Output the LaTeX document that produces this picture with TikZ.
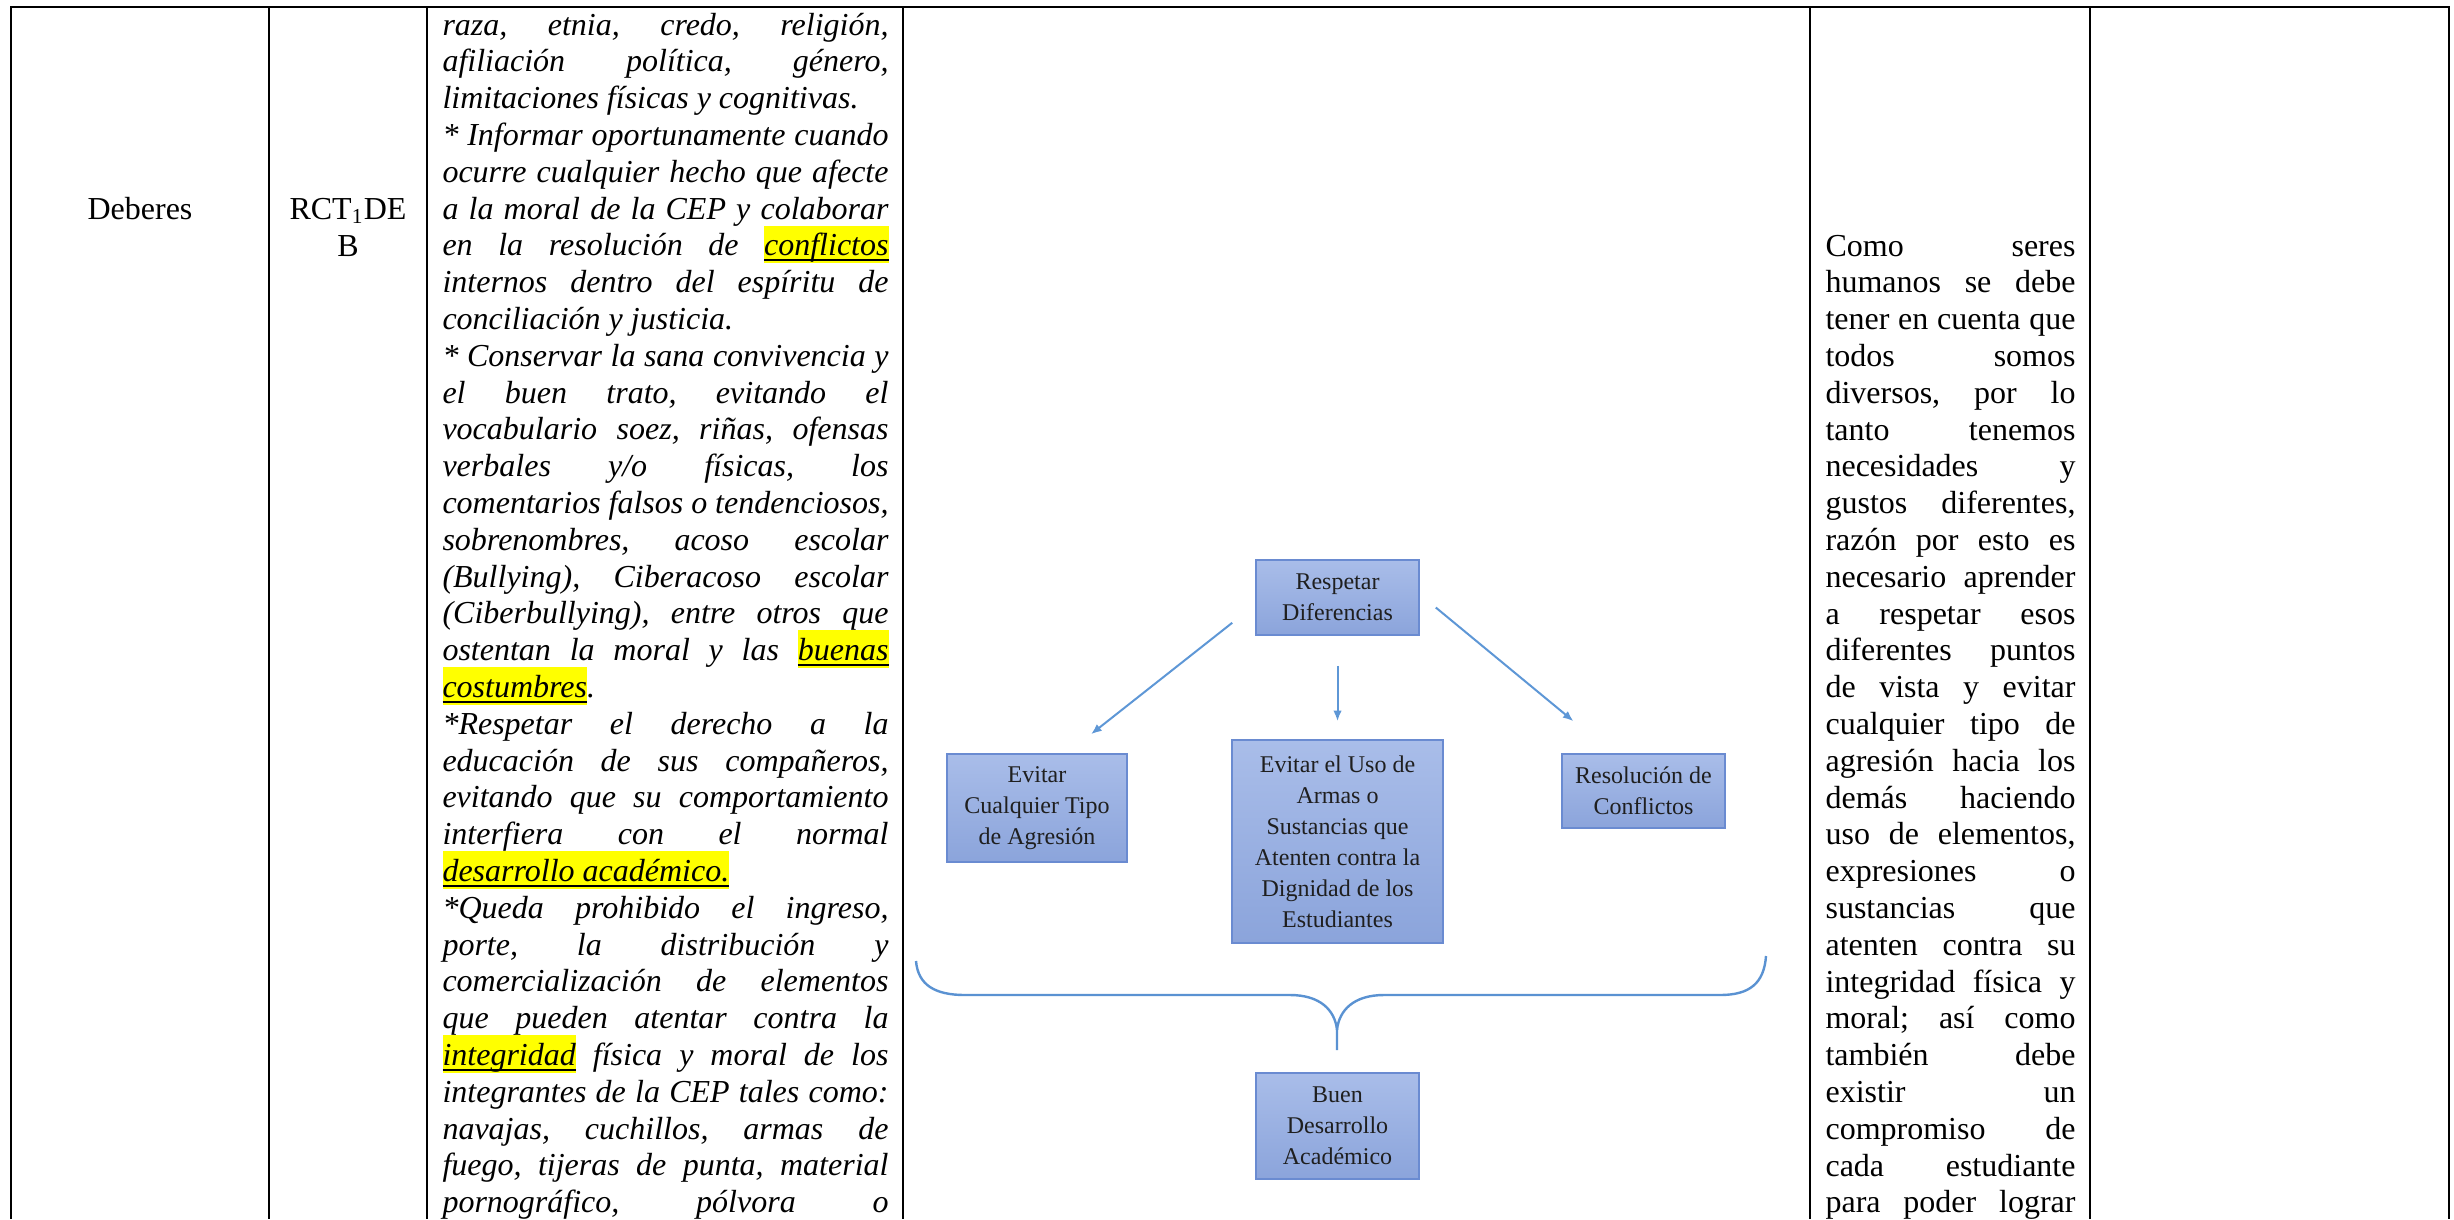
\documentclass[tikz,border=0pt]{standalone}
\usepackage{fontspec}
\setmainfont{Liberation Serif}
\usetikzlibrary{arrows.meta,calc}
\definecolor{boxtop}{HTML}{A9BDE9}
\definecolor{boxbot}{HTML}{8BA4DB}
\definecolor{boxline}{HTML}{6A8BD1}
\definecolor{arrowc}{HTML}{5E97D6}
\definecolor{bracec}{HTML}{5A92D2}
\definecolor{hly}{RGB}{255,255,0}
\newlength\linew
\newsavebox\hlbox
\newcommand\Jl[1]{\makebox[\linew][s]{#1}\par}
\newcommand\Ll[1]{\makebox[\linew][l]{#1}\par}
\newcommand\hlw[1]{\sbox\hlbox{#1}\rlap{\textcolor{hly}{\rule[-2.7pt]{\wd\hlbox}{14pt}}}\rlap{\rule[-2pt]{\wd\hlbox}{0.8pt}}\usebox\hlbox}
\tikzset{
  sbox/.style={draw=boxline, line width=0.6pt, top color=boxtop, bottom color=boxbot,
    align=center, inner sep=1pt, font=\fontsize{9}{11.6}\selectfont, text=black!88},
  arr/.style={draw=arrowc, line width=0.75pt, -{Latex[length=4pt,width=3.2pt]}},
  rule/.style={draw=black, line width=0.75pt},
  celltext/.style={anchor=base west, inner sep=0pt},
  plain/.style={anchor=base, inner sep=0pt, font=\fontsize{12}{13.8}\selectfont}
}
\begin{document}
\begin{tikzpicture}[x=0.375pt,y=-0.375pt]
\useasboundingbox (0,0) rectangle (2454,1219);
% table grid
\coordinate (tl) at (11,7);
\coordinate (tr) at (2449,7);
\draw[black, line width=1pt] (tl) -- (tr);
\foreach \xx in {11,269,427,903,1810,2090,2449}{
  \draw[rule] (\xx,6) -- (\xx,1219);
}
% column 1 and 2
\node[plain] (deb) at (140,219) {Deberes};
\node[plain] (rct) at (348,219) {RCT\textsubscript{1}DE};
\node[plain] (rctb) at (348,256) {B};
% column 3
\node[celltext] (c3) at (442,35) {\vtop{\fontsize{12}{13.8}\selectfont\itshape
\hsize=167.25pt\linew=\hsize\parindent=0pt\parskip=0pt\lineskiplimit=-30pt\frenchspacing
\Jl{raza, etnia, credo, religión,}
\Jl{afiliación política, género,}
\Ll{limitaciones físicas y cognitivas.}
\Jl{* Informar oportunamente cuando}
\Jl{ocurre cualquier hecho que afecte}
\Jl{a la moral de la CEP y colaborar}
\Jl{en la resolución de \hlw{conflictos}}
\Jl{internos dentro del espíritu de}
\Ll{conciliación y justicia.}
\Jl{* Conservar la sana convivencia y}
\Jl{el buen trato, evitando el}
\Jl{vocabulario soez, riñas, ofensas}
\Jl{verbales y/o físicas, los}
\Jl{comentarios falsos o tendenciosos,}
\Jl{sobrenombres, acoso escolar}
\Jl{(Bullying), Ciberacoso escolar}
\Jl{(Ciberbullying), entre otros que}
\Jl{ostentan la moral y las \hlw{buenas}}
\Ll{\hlw{costumbres}.}
\Jl{*Respetar el derecho a la}
\Jl{educación de sus compañeros,}
\Jl{evitando que su comportamiento}
\Jl{interfiera con el normal}
\Ll{\hlw{desarrollo académico.}}
\Jl{*Queda prohibido el ingreso,}
\Jl{porte, la distribución y}
\Jl{comercialización de elementos}
\Jl{que pueden atentar contra la}
\Jl{\hlw{integridad} física y moral de los}
\Jl{integrantes de la CEP tales como:}
\Jl{navajas, cuchillos, armas de}
\Jl{fuego, tijeras de punta, material}
\Jl{pornográfico, pólvora o}
}};
% column 6
\node[celltext] (c6) at (1825,256) {\vtop{\fontsize{12}{13.8}\selectfont
\hsize=93.75pt\linew=\hsize\parindent=0pt\parskip=0pt\lineskiplimit=-30pt\frenchspacing
\Jl{Como seres}
\Jl{humanos se debe}
\Jl{tener en cuenta que}
\Jl{todos somos}
\Jl{diversos, por lo}
\Jl{tanto tenemos}
\Jl{necesidades y}
\Jl{gustos diferentes,}
\Jl{razón por esto es}
\Jl{necesario aprender}
\Jl{a respetar esos}
\Jl{diferentes puntos}
\Jl{de vista y evitar}
\Jl{cualquier tipo de}
\Jl{agresión hacia los}
\Jl{demás haciendo}
\Jl{uso de elementos,}
\Jl{expresiones o}
\Jl{sustancias que}
\Jl{atenten contra su}
\Jl{integridad física y}
\Jl{moral; así como}
\Jl{también debe}
\Jl{existir un}
\Jl{compromiso de}
\Jl{cada estudiante}
\Jl{para poder lograr}
}};
% diagram
\node[sbox, minimum width=61.1pt, minimum height=28.1pt] (resp) at (1337.5,597.5) {Respetar\\Diferencias};
\node[sbox, minimum width=67.5pt, minimum height=40.5pt] (evc) at (1037,808) {Evitar\\Cualquier Tipo\\de Agresión};
\node[sbox, minimum width=79.1pt, minimum height=76.1pt] (evu) at (1337.5,841.5) {Evitar el Uso de\\Armas o\\Sustancias que\\Atenten contra la\\Dignidad de los\\Estudiantes};
\node[sbox, minimum width=61.1pt, minimum height=27.75pt] (res) at (1643.5,791) {Resolución de\\Conflictos};
\node[sbox, minimum width=61.1pt, minimum height=39.75pt] (buen) at (1337.5,1126) {Buen\\Desarrollo\\Académico};
\draw[arr] ($(resp.south west)+(-23,-13)$) -- ($(evc.north)+(54,-19)$);
\draw[arr] ($(resp.south)+(0,30)$) -- ($(evu.north)+(0,-18)$);
\draw[arr] ($(resp.east)+(16,10)$) -- ($(res.north)+(-70,-32)$);
% brace
\coordinate (bl) at (916,961);
\coordinate (br) at (1766,956);
\coordinate (bc) at (1337,1030);
\coordinate (bt) at (1337,1050);
\draw[bracec, line width=0.9pt] (bl) .. controls (918,985) and (935,995) .. (965,995) -- (1290,995) .. controls (1320,995) and (1335,1010) .. (bc) -- (bt);
\draw[bracec, line width=0.9pt] (br) .. controls (1764,983) and (1750,995) .. (1720,995) -- (1384,995) .. controls (1354,995) and (1339,1010) .. (bc);
\end{tikzpicture}
\end{document}
